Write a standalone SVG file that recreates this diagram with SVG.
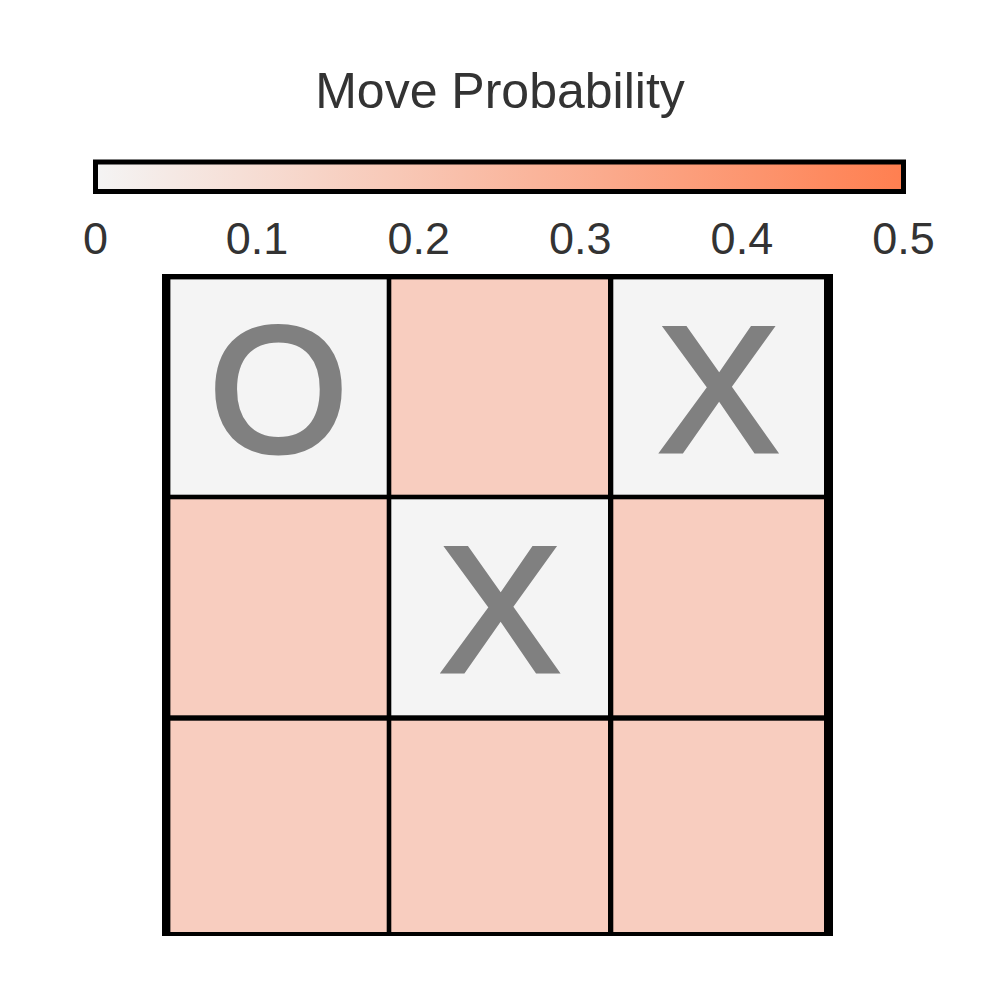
<svg xmlns="http://www.w3.org/2000/svg" width="1000" height="1000" viewBox="0 0 1000 1000">
  <defs>
    <linearGradient id="cmap" x1="0" y1="0" x2="1" y2="0">
      <stop offset="0" stop-color="#f4f4f4"/>
      <stop offset="1" stop-color="#ff7f50"/>
    </linearGradient>
    <style>
      .lbl { font-family: "Liberation Sans", Arial, Helvetica, sans-serif; fill: #333333; }
      .tick { font-size: 45px; text-anchor: middle; }
      .title { font-size: 50px; text-anchor: middle; }
      .empty { fill: #f8cdbf; }
      .taken { fill: #f4f4f4; }
      .mark { font-family: "Liberation Sans", Arial, Helvetica, sans-serif; font-size: 178px; fill: #808080; stroke: #808080; stroke-width: 5px; stroke-linejoin: miter; text-anchor: middle; }
    </style>
  </defs>
  <rect width="1000" height="1000" fill="#ffffff"/>

  <g id="colorbar">
    <text class="lbl title" x="500" y="108">Move Probability</text>
    <rect x="95.5" y="162" width="808" height="29.5" fill="url(#cmap)" stroke="#000000" stroke-width="5"/>
    <text class="lbl tick" x="95.5" y="254">0</text>
    <text class="lbl tick" x="257.1" y="254">0.1</text>
    <text class="lbl tick" x="418.7" y="254">0.2</text>
    <text class="lbl tick" x="580.3" y="254">0.3</text>
    <text class="lbl tick" x="741.9" y="254">0.4</text>
    <text class="lbl tick" x="903.5" y="254">0.5</text>
  </g>

  <g id="board">
    <rect x="162" y="274" width="671" height="662" fill="#000000"/>
    <g id="cell-0-0"><rect class="taken" x="170.4" y="279.4" width="216.3" height="215.3"/><text class="mark" x="278.5" y="451">O</text></g>
    <g id="cell-0-1"><rect class="empty" x="391.3" y="279.4" width="216.7" height="215.3"/></g>
    <g id="cell-0-2"><rect class="taken" x="613.3" y="279.4" width="210.7" height="215.3"/><text class="mark" x="718.7" y="451">X</text></g>
    <g id="cell-1-0"><rect class="empty" x="170.4" y="499.3" width="216.3" height="216"/></g>
    <g id="cell-1-1"><rect class="taken" x="391.3" y="499.3" width="216.7" height="216"/><text class="mark" x="500" y="671">X</text></g>
    <g id="cell-1-2"><rect class="empty" x="613.3" y="499.3" width="210.7" height="216"/></g>
    <g id="cell-2-0"><rect class="empty" x="170.4" y="720.7" width="216.3" height="211.3"/></g>
    <g id="cell-2-1"><rect class="empty" x="391.3" y="720.7" width="216.7" height="211.3"/></g>
    <g id="cell-2-2"><rect class="empty" x="613.3" y="720.7" width="210.7" height="211.3"/></g>
  </g>
  <g id="connectors"/>
</svg>
